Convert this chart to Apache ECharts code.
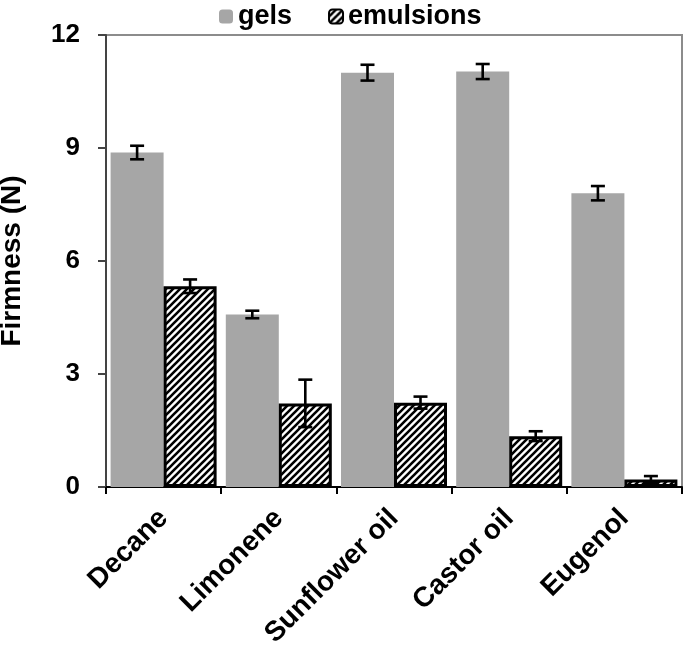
<!DOCTYPE html>
<html>
<head>
<meta charset="utf-8">
<script src="https://cdn.jsdelivr.net/npm/echarts@6/dist/echarts.min.js"></script>
<style>
html,body{margin:0;padding:0;background:#fff;}
#chart{width:685px;height:648px;}
</style>
</head>
<body>
<div id="chart"></div>
<script>
const categories = ['Decane', 'Limonene', 'Sunflower oil', 'Castor oil', 'Eugenol'];
const gels = [8.88, 4.58, 11.0, 11.03, 7.8];
const gelsErr = [0.18, 0.1, 0.21, 0.2, 0.19];
const emulsions = [5.33, 2.22, 2.24, 1.35, 0.2];
const emulsionsErr = [0.18, 0.63, 0.16, 0.13, 0.09];
const yTicks = [0, 3, 6, 9, 12];

const FONT = 'Arial, "Liberation Sans", sans-serif';
const BAR_W = 53;

// hatch pattern
const pc = document.createElement('canvas');
const T = 7;
pc.width = T; pc.height = T;
const ctx = pc.getContext('2d');
ctx.fillStyle = '#fff';
ctx.fillRect(0, 0, T, T);
ctx.strokeStyle = '#000';
ctx.lineWidth = 2.6;
ctx.beginPath();
ctx.moveTo(-1, T + 1); ctx.lineTo(T + 1, -1);
ctx.moveTo(-1, 1); ctx.lineTo(1, -1);
ctx.moveTo(T - 1, T + 1); ctx.lineTo(T + 1, T - 1);
ctx.stroke();

function errData(vals, errs) {
  return vals.map((v, i) => [i, v, errs[i]]);
}
function errRender(sign) {
  return function (params, api) {
    const i = api.value(0), v = api.value(1), e = api.value(2);
    const top = api.coord([i, v + e]);
    const bot = api.coord([i, Math.max(0, v - e)]);
    const x = top[0] + sign * BAR_W / 2;
    const hw = 7;
    const st = { stroke: '#000', lineWidth: 2.6 };
    return {
      type: 'group',
      children: [
        { type: 'line', shape: { x1: x, y1: top[1], x2: x, y2: bot[1] }, style: st },
        { type: 'line', shape: { x1: x - hw, y1: top[1], x2: x + hw, y2: top[1] }, style: st },
        { type: 'line', shape: { x1: x - hw, y1: bot[1], x2: x + hw, y2: bot[1] }, style: st }
      ]
    };
  };
}

const chart = echarts.init(document.getElementById('chart'), null, { renderer: 'canvas' });
chart.setOption({
  animation: false,
  backgroundColor: '#fff',
  legend: {
    left: 214, top: -2,
    itemWidth: 14, itemHeight: 14, itemGap: 36,
    textStyle: { fontFamily: FONT, fontWeight: 'bold', fontSize: 27, color: '#000' },
    data: ['gels', 'emulsions']
  },
  grid: {
    left: 106, right: 3, top: 35, bottom: 161,
    containLabel: false, outerBoundsMode: 'none',
    show: true, borderColor: '#8c8c8c', borderWidth: 2, backgroundColor: 'transparent'
  },
  xAxis: {
    type: 'category',
    data: categories,
    axisLine: { lineStyle: { color: '#000', width: 2 } },
    axisTick: { show: true, length: 7, lineStyle: { color: '#000', width: 2 } },
    axisLabel: {
      rotate: 45, margin: 27, interval: 0, hideOverlap: false,
      fontFamily: FONT, fontWeight: 'bold', fontSize: 28, color: '#000'
    }
  },
  yAxis: {
    type: 'value',
    min: yTicks[0], max: yTicks[yTicks.length - 1], interval: 3,
    name: 'Firmness (N)',
    nameLocation: 'middle', nameGap: 80,
    nameTextStyle: { fontFamily: FONT, fontWeight: 'bold', fontSize: 28, color: '#000' },
    axisLine: { show: true, lineStyle: { color: '#444', width: 2 } },
    axisTick: { show: true, length: 8, lineStyle: { color: '#444', width: 2 } },
    splitLine: { show: false },
    axisLabel: { margin: 26, fontFamily: FONT, fontWeight: 'bold', fontSize: 26, color: '#000' }
  },
  series: [
    {
      name: 'gels', type: 'bar', data: gels, barWidth: BAR_W, barGap: '0%',
      itemStyle: { color: '#a6a6a6' }
    },
    {
      name: 'emulsions', type: 'bar', data: emulsions, barWidth: BAR_W, barGap: '0%',
      itemStyle: { color: { image: pc, repeat: 'repeat' }, borderColor: '#000', borderWidth: 3 }
    },
    {
      type: 'custom', name: 'gelsErr', renderItem: errRender(-1),
      data: errData(gels, gelsErr), encode: { x: 0, y: 1 }, z: 10, silent: true
    },
    {
      type: 'custom', name: 'emulsionsErr', renderItem: errRender(1),
      data: errData(emulsions, emulsionsErr), encode: { x: 0, y: 1 }, z: 10, silent: true
    }
  ]
});
</script>
</body>
</html>
